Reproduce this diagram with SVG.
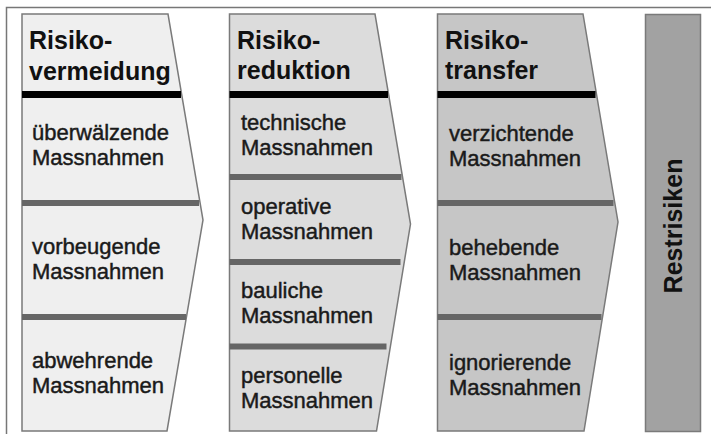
<svg xmlns="http://www.w3.org/2000/svg" width="711" height="434" viewBox="0 0 711 434">
<style>
.head{font-family:"Liberation Sans",Arial,sans-serif;font-weight:bold;font-size:25px;fill:#111}
.item{font-family:"Liberation Sans",Arial,sans-serif;font-size:22px;fill:#1a1a1a;stroke:#1a1a1a;stroke-width:0.45}
.shape{stroke:#7a7a7a;stroke-width:1.5}
.black{fill:#000}
.bar{fill:#666}
</style>
<rect width="711" height="434" fill="#fff"/>
<g id="frame" fill="none" stroke="#777" stroke-width="1.5">
<path d="M711 7.5 H6.5 V434"/>
</g>
<g id="col1">
<path class="shape" fill="#efefef" d="M22 14 H168 L203 220 L167 431 H22 Z"/>
<rect class="black" x="22" y="91" width="159" height="7"/>
<rect class="bar" x="22" y="200" width="177" height="6"/>
<rect class="bar" x="22" y="314" width="164" height="6"/>
<text class="head" x="29" y="49">Risiko-</text>
<text class="head" x="29" y="80">vermeidung</text>
<text class="item" x="32" y="140">überwälzende</text>
<text class="item" x="32" y="165">Massnahmen</text>
<text class="item" x="32" y="254">vorbeugende</text>
<text class="item" x="32" y="279">Massnahmen</text>
<text class="item" x="32" y="368">abwehrende</text>
<text class="item" x="32" y="393">Massnahmen</text>
</g>
<g id="col2">
<path class="shape" fill="#dcdcdc" d="M229.5 14 H375 L410.5 224 L376.5 431 H229.5 Z"/>
<rect class="black" x="229.5" y="91" width="158.5" height="7"/>
<rect class="bar" x="229.5" y="174" width="172" height="6"/>
<rect class="bar" x="229.5" y="259" width="171" height="6"/>
<rect class="bar" x="229.5" y="343.5" width="157" height="6"/>
<text class="head" x="237" y="49">Risiko-</text>
<text class="head" x="237" y="79">reduktion</text>
<text class="item" x="241" y="130">technische</text>
<text class="item" x="241" y="155">Massnahmen</text>
<text class="item" x="241" y="214">operative</text>
<text class="item" x="241" y="239">Massnahmen</text>
<text class="item" x="241" y="298">bauliche</text>
<text class="item" x="241" y="323">Massnahmen</text>
<text class="item" x="241" y="383">personelle</text>
<text class="item" x="241" y="408">Massnahmen</text>
</g>
<g id="col3">
<path class="shape" fill="#c6c6c6" d="M437.5 14 H583 L618 222 L584 431 H437.5 Z"/>
<rect class="black" x="437.5" y="91" width="158" height="7"/>
<rect class="bar" x="437.5" y="200" width="176" height="6"/>
<rect class="bar" x="437.5" y="314" width="164" height="6"/>
<text class="head" x="445" y="49">Risiko-</text>
<text class="head" x="445" y="79">transfer</text>
<text class="item" x="449" y="141">verzichtende</text>
<text class="item" x="449" y="166">Massnahmen</text>
<text class="item" x="449" y="255">behebende</text>
<text class="item" x="449" y="280">Massnahmen</text>
<text class="item" x="449" y="370">ignorierende</text>
<text class="item" x="449" y="395">Massnahmen</text>
</g>
<g id="restrisiken">
<rect class="shape" fill="#a2a2a2" x="645.5" y="14.5" width="55" height="417"/>
<text class="head" transform="translate(682 226) rotate(-90)" text-anchor="middle" x="0" y="0">Restrisiken</text>
</g>
<g id="connectors"></g>
</svg>
